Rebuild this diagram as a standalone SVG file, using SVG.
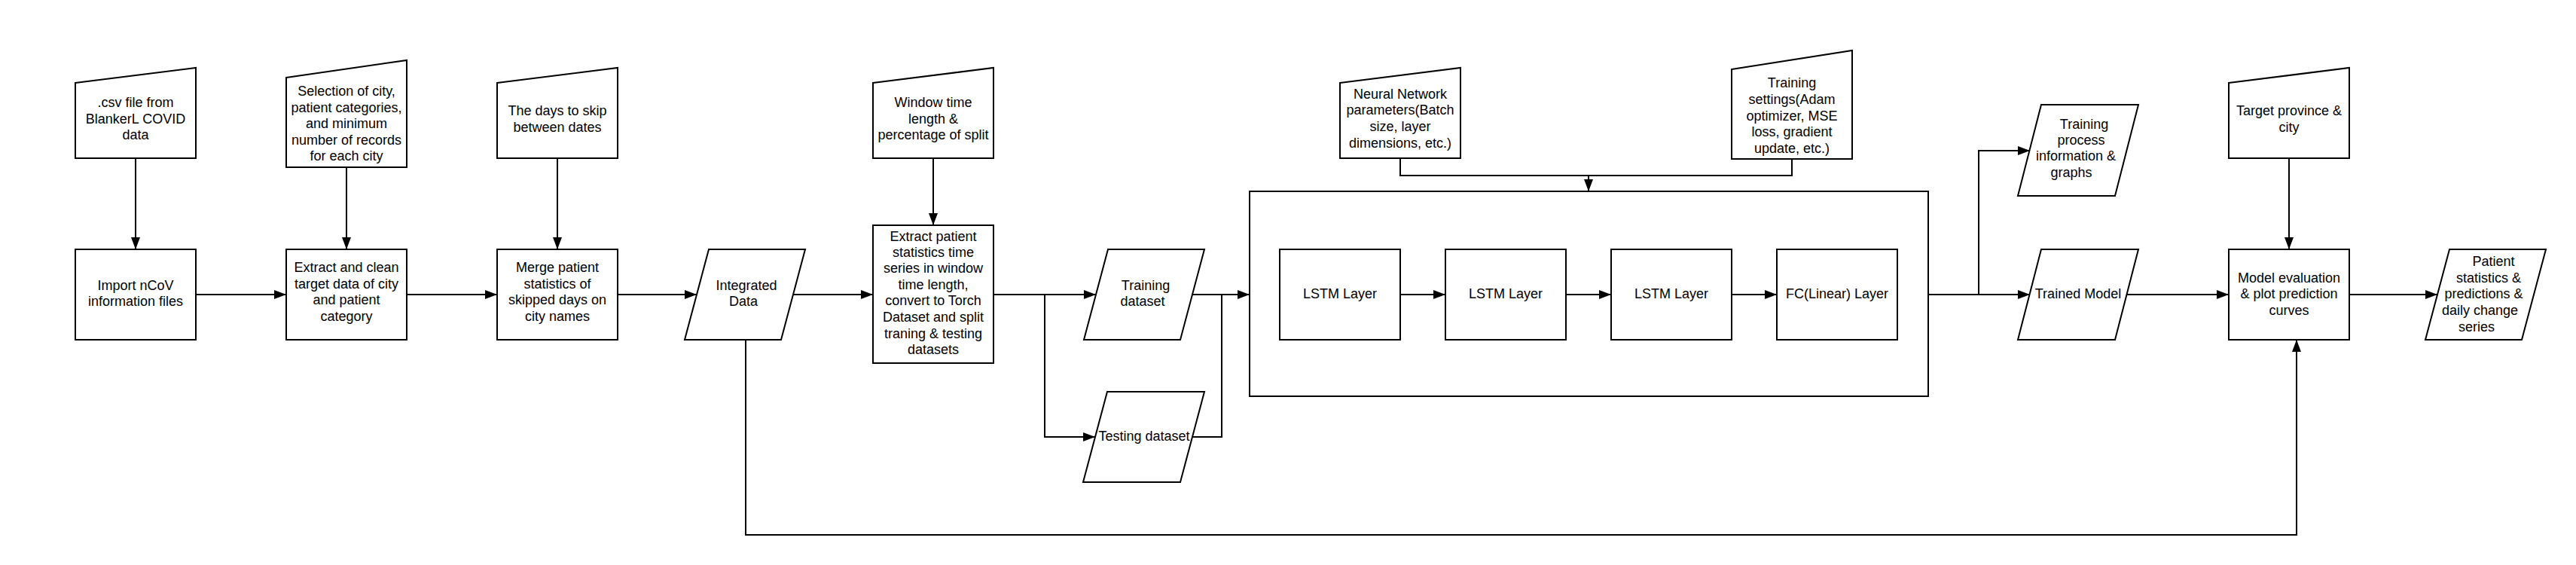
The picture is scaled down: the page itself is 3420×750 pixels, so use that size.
<svg xmlns="http://www.w3.org/2000/svg" width="3420" height="750" viewBox="0 0 3420 750">
<style>
.s{fill:#fff;stroke:#000;stroke-width:2}
.c{fill:none;stroke:#000;stroke-width:2}
.a{marker-end:url(#ah)}
text{font-family:"Liberation Sans",Arial,sans-serif;font-size:18px;text-anchor:middle;fill:#000}
</style>
<defs>
<marker id="ah" markerUnits="userSpaceOnUse" markerWidth="16" markerHeight="12" refX="16" refY="6" orient="auto">
<path d="M0,0 L16,6 L0,12 z" fill="#000"/>
</marker>
</defs>
<rect width="3420" height="750" fill="#fff"/>
<g id="model_container">
<rect class="s" x="1659" y="254" width="901" height="272"/>
</g>
<g id="connectors">
<path class="c a" d="M180,210 V331"/>
<path class="c a" d="M460,222 V331"/>
<path class="c a" d="M740,210 V331"/>
<path class="c a" d="M260,391 H380"/>
<path class="c a" d="M540,391 H660"/>
<path class="c a" d="M820,391 H925"/>
<path class="c a" d="M1053,391 H1159"/>
<path class="c a" d="M1239,210 V299"/>
<path class="c a" d="M1319,391 H1455"/>
<path class="c a" d="M1387,391 V580 H1454"/>
<path class="c a" d="M1583,391 H1659"/>
<path class="c" d="M1583,580 H1622 V391"/>
<path class="c" d="M1859,210 V233 H2379 V211"/>
<path class="c a" d="M2109,233 V254"/>
<path class="c a" d="M1859,391 H1919"/>
<path class="c a" d="M2079,391 H2139"/>
<path class="c a" d="M2299,391 H2359"/>
<path class="c a" d="M2560,391 H2695"/>
<path class="c a" d="M2627,391 V200 H2695"/>
<path class="c a" d="M2823,391 H2959"/>
<path class="c a" d="M3119,391 H3236"/>
<path class="c a" d="M3039,210 V331"/>
<path class="c a" d="M990,451 V710 H3049 V451"/>
</g>
<g id="csv_input">
<polygon class="s" points="100,110 260,90 260,210 100,210"/>
<text x="180" y="142">.csv file from</text>
<text x="180" y="163.5">BlankerL COVID</text>
<text x="180" y="185">data</text>
</g>
<g id="selection_input">
<polygon class="s" points="380,103 540,80 540,222 380,222"/>
<text x="460" y="127">Selection of city,</text>
<text x="460" y="148.5">patient categories,</text>
<text x="460" y="170">and minimum</text>
<text x="460" y="191.5">number of records</text>
<text x="460" y="213">for each city</text>
</g>
<g id="days_input">
<polygon class="s" points="660,110 820,90 820,210 660,210"/>
<text x="740" y="153">The days to skip</text>
<text x="740" y="174.5">between dates</text>
</g>
<g id="import">
<rect class="s" x="100" y="331" width="160" height="120"/>
<text x="180" y="384.5">Import nCoV</text>
<text x="180" y="406">information files</text>
</g>
<g id="extract_clean">
<rect class="s" x="380" y="331" width="160" height="120"/>
<text x="460" y="361">Extract and clean</text>
<text x="460" y="383">target data of city</text>
<text x="460" y="404">and patient</text>
<text x="460" y="426">category</text>
</g>
<g id="merge">
<rect class="s" x="660" y="331" width="160" height="120"/>
<text x="740" y="361">Merge patient</text>
<text x="740" y="383">statistics of</text>
<text x="740" y="404">skipped days on</text>
<text x="740" y="426">city names</text>
</g>
<g id="integrated">
<polygon class="s" points="941,331 1069,331 1037,451 909,451"/>
<text x="991" y="384.5">Integrated</text>
<text x="987" y="406">Data</text>
</g>
<g id="window_input">
<polygon class="s" points="1159,110 1319,90 1319,210 1159,210"/>
<text x="1239" y="142">Window time</text>
<text x="1239" y="163.5">length &amp;</text>
<text x="1239" y="185">percentage of split</text>
</g>
<g id="extract_patient">
<rect class="s" x="1159" y="299" width="160" height="183"/>
<text x="1239" y="319.5">Extract patient</text>
<text x="1239" y="341">statistics time</text>
<text x="1239" y="362">series in window</text>
<text x="1239" y="384">time length,</text>
<text x="1239" y="405">convert to Torch</text>
<text x="1239" y="427">Dataset and split</text>
<text x="1239" y="448.5">traning &amp; testing</text>
<text x="1239" y="470">datasets</text>
</g>
<g id="training_dataset">
<polygon class="s" points="1471,331 1599,331 1567,451 1439,451"/>
<text x="1521" y="384.5">Training</text>
<text x="1517" y="406">dataset</text>
</g>
<g id="testing_dataset">
<polygon class="s" points="1470,520 1599,520 1567,640 1438,640"/>
<text x="1519" y="584.5">Testing dataset</text>
</g>
<g id="nn_params">
<polygon class="s" points="1779,110 1939,90 1939,210 1779,210"/>
<text x="1859" y="130.5">Neural Network</text>
<text x="1859" y="152">parameters(Batch</text>
<text x="1859" y="174">size, layer</text>
<text x="1859" y="195.5">dimensions, etc.)</text>
</g>
<g id="training_settings">
<polygon class="s" points="2299,92 2459,67 2459,211 2299,211"/>
<text x="2379" y="116">Training</text>
<text x="2379" y="138">settings(Adam</text>
<text x="2379" y="159.5">optimizer, MSE</text>
<text x="2379" y="181">loss, gradient</text>
<text x="2379" y="202.5">update, etc.)</text>
</g>
<g id="lstm1">
<rect class="s" x="1699" y="331" width="160" height="120"/>
<text x="1779" y="395.5">LSTM Layer</text>
</g>
<g id="lstm2">
<rect class="s" x="1919" y="331" width="160" height="120"/>
<text x="1999" y="395.5">LSTM Layer</text>
</g>
<g id="lstm3">
<rect class="s" x="2139" y="331" width="160" height="120"/>
<text x="2219" y="395.5">LSTM Layer</text>
</g>
<g id="fc_layer">
<rect class="s" x="2359" y="331" width="160" height="120"/>
<text x="2439" y="395.5">FC(Linear) Layer</text>
</g>
<g id="training_process">
<polygon class="s" points="2710,139 2839,139 2808,260 2679,260"/>
<text x="2767" y="170.5">Training</text>
<text x="2763" y="192">process</text>
<text x="2756" y="213">information &amp;</text>
<text x="2750" y="235">graphs</text>
</g>
<g id="trained_model">
<polygon class="s" points="2710,331 2839,331 2808,451 2679,451"/>
<text x="2759" y="395.5">Trained Model</text>
</g>
<g id="target_input">
<polygon class="s" points="2959,110 3119,90 3119,210 2959,210"/>
<text x="3039" y="153">Target province &amp;</text>
<text x="3039" y="174.5">city</text>
</g>
<g id="model_eval">
<rect class="s" x="2959" y="331" width="160" height="120"/>
<text x="3039" y="374.5">Model evaluation</text>
<text x="3039" y="396">&amp; plot prediction</text>
<text x="3039" y="417.5">curves</text>
</g>
<g id="patient_stats">
<polygon class="s" points="3252,331 3380,331 3348,451 3220,451"/>
<text x="3310.5" y="353">Patient</text>
<text x="3304" y="375">statistics &amp;</text>
<text x="3297.5" y="396">predictions &amp;</text>
<text x="3292.5" y="418">daily change</text>
<text x="3288" y="439.5">series</text>
</g>
</svg>
